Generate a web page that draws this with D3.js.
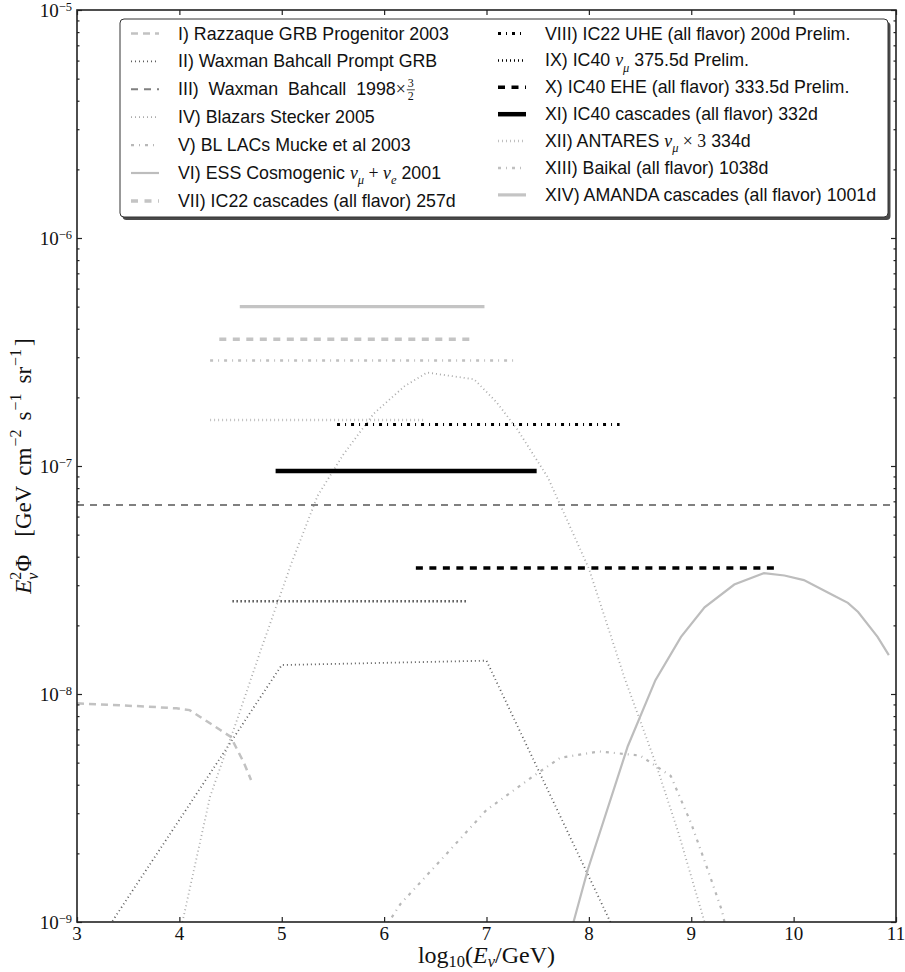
<!DOCTYPE html>
<html>
<head>
<meta charset="utf-8">
<script src="https://cdn.jsdelivr.net/npm/d3@7"></script>
<style>
  body { margin: 0; background: #fff; }
  text { white-space: pre; }
</style>
</head>
<body>
<svg id="chart" width="905" height="972"></svg>
<script>
// ---- Model fluxes: [log10(E/GeV), E^2 Phi  (GeV cm^-2 s^-1 sr^-1)] ----
const razzaqueGRB = [[3.0,9.1e-9],[3.35,8.95e-9],[3.7,8.8e-9],[3.97,8.65e-9],[4.1,8.5e-9],[4.2,7.95e-9],
  [4.4,6.95e-9],[4.5,6.5e-9],[4.63,5.0e-9],[4.7,4.2e-9]];
const waxmanPrompt = [[3.0,5.9e-10],[3.34,1.0e-9],[5.0,1.34e-8],[7.0,1.4e-8],[8.21,1.0e-9],[8.4,6.6e-10]];
const blazarsStecker = [[4.0,8.9e-10],[4.03,1.0e-9],[4.3,3.55e-9],[4.55,7.4e-9],[4.8,1.58e-8],[5.1,3.8e-8],
  [5.35,7.4e-8],[5.6,1.12e-7],[5.9,1.7e-7],[6.2,2.24e-7],[6.42,2.57e-7],[6.88,2.4e-7],[7.1,1.9e-7],
  [7.3,1.45e-7],[7.6,8.9e-8],[8.0,3.55e-8],[8.35,1.17e-8],[8.65,5.0e-9],[8.87,2.5e-9],[9.13,1.0e-9],[9.2,8.5e-10]];
const blLacsMucke = [[6.0,9.3e-10],[6.16,1.2e-9],[6.55,1.86e-9],[7.0,3.1e-9],[7.46,4.37e-9],[7.72,5.25e-9],
  [8.1,5.6e-9],[8.5,5.37e-9],[8.8,4.37e-9],[9.0,2.7e-9],[9.16,1.7e-9],[9.3,1.12e-9],[9.35,8.9e-10]];
const essCosmogenic = [[7.8,8.5e-10],[7.85,1.0e-9],[7.99,1.7e-9],[8.38,5.9e-9],[8.65,1.15e-8],[8.9,1.78e-8],
  [9.13,2.4e-8],[9.42,3.02e-8],[9.71,3.39e-8],[9.91,3.31e-8],[10.1,3.16e-8],[10.4,2.69e-8],[10.53,2.51e-8],
  [10.63,2.29e-8],[10.82,1.78e-8],[10.93,1.48e-8]];

// ---- Flat bounds and upper limits over an energy range ----
const limitIds  = ["III", "VII", "VIII", "IX", "X", "XI", "XII", "XIII", "XIV"];
const limitEmin = [3.0, 4.39, 5.54, 4.52, 6.31, 4.94, 4.30, 4.30, 4.59];
const limitEmax = [11.0, 6.84, 8.30, 6.82, 9.82, 7.49, 6.40, 7.28, 6.98];
const limitFlux = [6.75e-8, 3.6e-7, 1.52e-7, 2.55e-8, 3.57e-8, 9.5e-8, 1.59e-7, 2.9e-7, 5.0e-7];

// ---- Axis ticks ----
const xTicks = [3, 4, 5, 6, 7, 8, 9, 10, 11];
const yDecades = [-9, -8, -7, -6, -5];

// ---- Legend entries (left column I–VII, right column VIII–XIV) ----
const legendIds = ["I","II","III","IV","V","VI","VII","VIII","IX","X","XI","XII","XIII","XIV"];
const legendLabels = [
  [{t:"I) Razzaque GRB Progenitor 2003"}],
  [{t:"II) Waxman Bahcall Prompt GRB"}],
  [{t:"III)  Waxman  Bahcall  1998"}, {t:"×", serif:true}, {frac:["3","2"]}],
  [{t:"IV) Blazars Stecker 2005"}],
  [{t:"V) BL LACs Mucke et al 2003"}],
  [{t:"VI) ESS Cosmogenic "}, {t:"ν", serif:true, it:true}, {t:"μ", serif:true, it:true, sub:true},
   {t:" + ", serif:true}, {t:"ν", serif:true, it:true}, {t:"e", serif:true, it:true, sub:true}, {t:" 2001"}],
  [{t:"VII) IC22 cascades (all flavor) 257d"}],
  [{t:"VIII) IC22 UHE (all flavor) 200d Prelim."}],
  [{t:"IX) IC40 "}, {t:"ν", serif:true, it:true}, {t:"μ", serif:true, it:true, sub:true}, {t:" 375.5d Prelim."}],
  [{t:"X) IC40 EHE (all flavor) 333.5d Prelim."}],
  [{t:"XI) IC40 cascades (all flavor) 332d"}],
  [{t:"XII) ANTARES "}, {t:"ν", serif:true, it:true}, {t:"μ", serif:true, it:true, sub:true},
   {t:" × 3", serif:true}, {t:" 334d"}],
  [{t:"XIII) Baikal (all flavor) 1038d"}],
  [{t:"XIV) AMANDA cascades (all flavor) 1001d"}]
];

// ---- Line styles per entry ----
const styles = {
  "I":    {color:"#c2c2c2", width:2.5, dash:"7,5"},
  "II":   {color:"#5e5e5e", width:1.8, dash:"1,3"},
  "III":  {color:"#808080", width:2.0, dash:"7,6"},
  "IV":   {color:"#ababab", width:1.8, dash:"1,3"},
  "V":    {color:"#b8b8b8", width:2.2, dash:"3,5,1,5"},
  "VI":   {color:"#bdbdbd", width:2.2, dash:null},
  "VII":  {color:"#c4c4c4", width:3.5, dash:"7,6.5"},
  "VIII": {color:"#000000", width:3.0, dash:"3,5,1,5"},
  "IX":   {color:"#000000", width:2.5, dash:"1,3"},
  "X":    {color:"#000000", width:3.5, dash:"7,6.5"},
  "XI":   {color:"#000000", width:4.5, dash:null},
  "XII":  {color:"#c0c0c0", width:2.5, dash:"1,3"},
  "XIII": {color:"#c0c0c0", width:2.5, dash:"3,5,1,5"},
  "XIV":  {color:"#c4c4c4", width:3.2, dash:null}
};

const fontSans  = "'Liberation Sans', Arial, Helvetica, sans-serif";
const fontSerif = "'Liberation Serif', 'Times New Roman', serif";

const svg = d3.select("#chart");
const plot = {left: 77, right: 896, top: 10, bottom: 922};

const x = d3.scaleLinear().domain([3, 11]).range([plot.left, plot.right]);
const y = d3.scaleLog().domain([1e-9, 1e-5]).range([plot.bottom, plot.top]);

svg.append("defs").append("clipPath").attr("id", "plotClip")
  .append("rect")
  .attr("x", plot.left).attr("y", plot.top)
  .attr("width", plot.right - plot.left).attr("height", plot.bottom - plot.top);

function applyStyle(sel, id) {
  const s = styles[id];
  sel.attr("fill", "none")
    .attr("stroke", s.color)
    .attr("stroke-width", s.width)
    .attr("stroke-dasharray", s.dash);
}

// Rich text: sequence of tspans with sub/superscript shifts
function rich(textSel, segs, base, small) {
  let cur = 0;
  segs.forEach(s => {
    if (s.frac) return;
    const shift = s.sub ? (s.subShift || 0.3 * base) : (s.sup ? -0.42 * base : 0);
    const ts = textSel.append("tspan").text(s.t);
    if (shift !== cur) ts.attr("dy", shift - cur);
    if (s.dx) ts.attr("dx", s.dx);
    cur = shift;
    if (s.sub || s.sup) ts.attr("font-size", small);
    if (s.serif) ts.attr("font-family", fontSerif);
    if (s.it) ts.attr("font-style", "italic");
  });
}

const lineGen = d3.line().x(d => x(d[0])).y(d => y(d[1]));

const curves = svg.append("g").attr("clip-path", "url(#plotClip)");

// Model curves
[["I", razzaqueGRB], ["II", waxmanPrompt], ["IV", blazarsStecker],
 ["V", blLacsMucke], ["VI", essCosmogenic]].forEach(([id, data]) => {
  curves.append("path").datum(data).attr("d", lineGen).call(applyStyle, id);
});

// Flat bounds / upper limits
limitIds.forEach((id, i) => {
  curves.append("path")
    .datum([[limitEmin[i], limitFlux[i]], [limitEmax[i], limitFlux[i]]])
    .attr("d", lineGen)
    .call(applyStyle, id);
});

// ---- Axes ----
const axisColor = "#222";
const tickG = svg.append("g");

tickG.append("g").attr("transform", `translate(0,${plot.bottom})`)
  .call(d3.axisBottom(x).tickValues(xTicks).tickFormat("").tickSizeInner(-5).tickSizeOuter(0));
tickG.append("g").attr("transform", `translate(0,${plot.top})`)
  .call(d3.axisTop(x).tickValues(xTicks).tickFormat("").tickSizeInner(-5).tickSizeOuter(0));

const majorY = yDecades.map(d => Math.pow(10, d));
const minorY = [];
yDecades.slice(0, -1).forEach(d => { for (let k = 2; k <= 9; k++) minorY.push(k * Math.pow(10, d)); });

tickG.append("g").attr("transform", `translate(${plot.left},0)`)
  .call(d3.axisLeft(y).tickValues(majorY).tickFormat("").tickSizeInner(-5).tickSizeOuter(0));
tickG.append("g").attr("transform", `translate(${plot.left},0)`)
  .call(d3.axisLeft(y).tickValues(minorY).tickFormat("").tickSizeInner(-2.5).tickSizeOuter(0));
tickG.append("g").attr("transform", `translate(${plot.right},0)`)
  .call(d3.axisRight(y).tickValues(majorY).tickFormat("").tickSizeInner(-5).tickSizeOuter(0));
tickG.append("g").attr("transform", `translate(${plot.right},0)`)
  .call(d3.axisRight(y).tickValues(minorY).tickFormat("").tickSizeInner(-2.5).tickSizeOuter(0));

tickG.selectAll(".domain").remove();
tickG.selectAll(".tick line").attr("stroke", axisColor).attr("stroke-width", 1.2);

svg.append("rect")
  .attr("x", plot.left).attr("y", plot.top)
  .attr("width", plot.right - plot.left).attr("height", plot.bottom - plot.top)
  .attr("fill", "none").attr("stroke", axisColor).attr("stroke-width", 1.6);

// X tick labels
svg.append("g").selectAll("text").data(xTicks).join("text")
  .attr("x", d => x(d)).attr("y", plot.bottom + 18)
  .attr("text-anchor", "middle")
  .attr("font-family", fontSerif).attr("font-size", 19).attr("fill", "#111")
  .text(d => d);

// Y tick labels: 10^n
yDecades.forEach(d => {
  const t = svg.append("text")
    .attr("x", 72).attr("y", y(Math.pow(10, d)) + 6.5)
    .attr("text-anchor", "end")
    .attr("font-family", fontSerif).attr("font-size", 19).attr("fill", "#111");
  t.append("tspan").text("10");
  t.append("tspan").attr("dy", -5.5).attr("font-size", 12.5).text("−" + (-d));
});

// X axis title: log10(E_nu / GeV)
const xt = svg.append("text")
  .attr("x", (plot.left + plot.right) / 2).attr("y", 963)
  .attr("text-anchor", "middle")
  .attr("font-family", fontSerif).attr("font-size", 24).attr("fill", "#111");
rich(xt, [{t:"log"}, {t:"10", sub:true, subShift:4}, {t:"("}, {t:"E", it:true},
  {t:"ν", it:true, sub:true, subShift:4}, {t:"/GeV)"}], 24, 16.5);

// Y axis title: E_nu^2 Phi [GeV cm^-2 s^-1 sr^-1]
const yt = svg.append("text")
  .attr("transform", `translate(31,${(plot.top + plot.bottom) / 2}) rotate(-90)`)
  .attr("text-anchor", "middle")
  .attr("font-family", fontSerif).attr("font-size", 23).attr("fill", "#111");
rich(yt, [{t:"E", it:true}, {t:"2", sup:true}, {t:"ν", it:true, sub:true, dx:-8}, {t:"Φ", dx:1},
  {t:"[GeV", dx:18}, {t:"cm", dx:10}, {t:"−2", sup:true, dx:1}, {t:"s", dx:9},
  {t:"−1", sup:true, dx:1}, {t:"sr", dx:10}, {t:"−1", sup:true, dx:1}, {t:"]", dx:3}], 23, 16);

// ---- Legend ----
const leg = {x: 120, y: 19, w: 768, h: 198};
const lg = svg.append("g");
lg.append("rect").attr("x", leg.x + 2.5).attr("y", leg.y + 3)
  .attr("width", leg.w).attr("height", leg.h).attr("rx", 4).attr("fill", "#4a4a4a");
lg.append("rect").attr("x", leg.x).attr("y", leg.y)
  .attr("width", leg.w).attr("height", leg.h).attr("rx", 4)
  .attr("fill", "#fff").attr("stroke", "#333").attr("stroke-width", 1);

const cols = [
  {hx: 131, tx: 178, base: 39.5, step: 27.9},
  {hx: 498, tx: 545, base: 39.5, step: 26.9}
];
const legFont = 17.8;

legendIds.forEach((id, i) => {
  const c = cols[i < 7 ? 0 : 1];
  const row = i % 7;
  const by = c.base + row * c.step;
  lg.append("line")
    .attr("x1", c.hx).attr("x2", c.hx + 28)
    .attr("y1", by - 6).attr("y2", by - 6)
    .call(applyStyle, id);
  const t = lg.append("text")
    .attr("x", c.tx).attr("y", by)
    .attr("font-family", fontSans).attr("font-size", legFont).attr("fill", "#111");
  rich(t, legendLabels[i], legFont, 12.5);
  const frac = legendLabels[i].find(s => s.frac);
  if (frac) {
    const fx = c.tx + t.node().getComputedTextLength() + 1;
    const fg = lg.append("g").attr("font-family", fontSerif).attr("font-size", 12).attr("fill", "#111")
      .attr("text-anchor", "middle");
    fg.append("text").attr("x", fx + 4).attr("y", by - 8).text(frac.frac[0]);
    fg.append("line").attr("x1", fx).attr("x2", fx + 8).attr("y1", by - 5.5).attr("y2", by - 5.5)
      .attr("stroke", "#111").attr("stroke-width", 0.8);
    fg.append("text").attr("x", fx + 4).attr("y", by + 4.5).text(frac.frac[1]);
  }
});
</script>
</body>
</html>
